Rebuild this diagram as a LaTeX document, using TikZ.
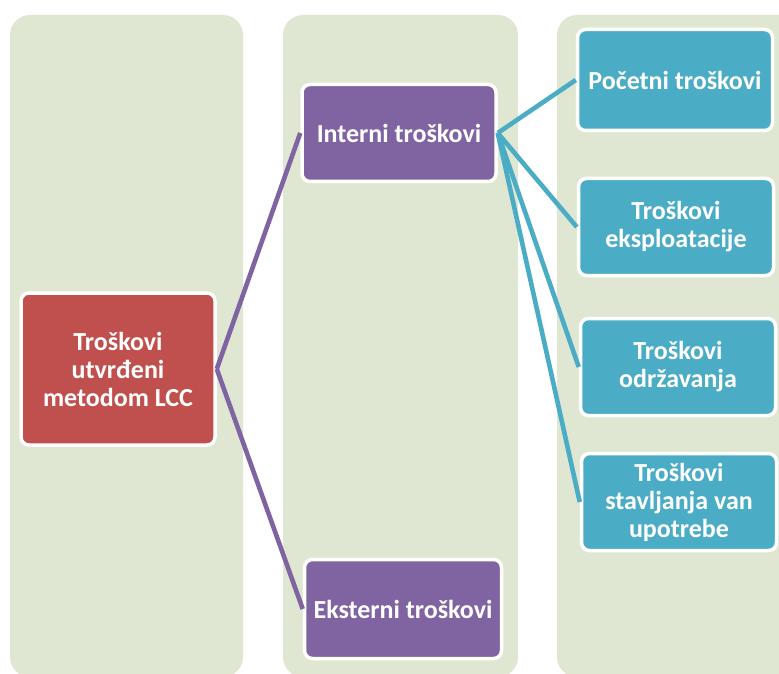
\documentclass[tikz,border=0pt]{standalone}
\usepackage{fontspec}
\setmainfont{Carlito}
\usetikzlibrary{positioning}
\definecolor{colgreen}{HTML}{DFE7D2}
\definecolor{lccred}{HTML}{C0504D}
\definecolor{lccpurple}{HTML}{8064A2}
\definecolor{lccblue}{HTML}{4BACC6}

\begin{document}
\begin{tikzpicture}[x=0.5pt,y=-0.5pt,every node/.append style={align=center},
        col/.style={fill=colgreen, rounded corners=10pt},
        box/.style={draw=white, line width=1.75pt, rounded corners=4pt, text=white, inner sep=2pt, font=\bfseries\fontsize{13}{14}\selectfont},
        redbox/.style={box, fill=lccred, minimum width=97pt, minimum height=76pt},
        purbox/.style={box, fill=lccpurple, minimum width=97pt, minimum height=48.5pt},
        bluebox/.style={box, fill=lccblue, minimum width=97.5pt, minimum height=48.5pt},
        link/.style={line width=2.3pt}]
        \useasboundingbox (0,0) rectangle (779,673);
        % background columns
        \fill[col] (10,15) rectangle (243,677);
        \fill[col] (283,15) rectangle (518,677);
        \fill[col] (557,15) rectangle (820,677);
        \node [redbox] (lcc) at (118,369) {Troškovi\\utvrđeni\\metodom LCC};
        \node [purbox] (interni) at (399,133) {Interni troškovi};
        \node [purbox, minimum width=98.5pt, minimum height=49.5pt] (eksterni) at (403,609) {Eksterni troškovi};
        \node [bluebox, minimum height=50.5pt] (pocetni) at (675,80) {Početni troškovi};
        \node [bluebox] (eksploat) at (676,227) {Troškovi\\eksploatacije};
        \node [bluebox] (odrzav) at (678,367) {Troškovi\\održavanja};
        \node [bluebox] (stavlj) at (679,502) {Troškovi\\stavljanja van\\upotrebe};
        \path[link, draw=lccpurple] (lcc.east) edge (interni.west)
        (lcc.east) edge (eksterni.west);
        \path[link, draw=lccblue] (interni.east) edge (pocetni.west)
        (interni.east) edge (eksploat.west)
        (interni.east) edge (odrzav.west)
        (interni.east) edge (stavlj.west);
    \end{tikzpicture}
\end{document}
